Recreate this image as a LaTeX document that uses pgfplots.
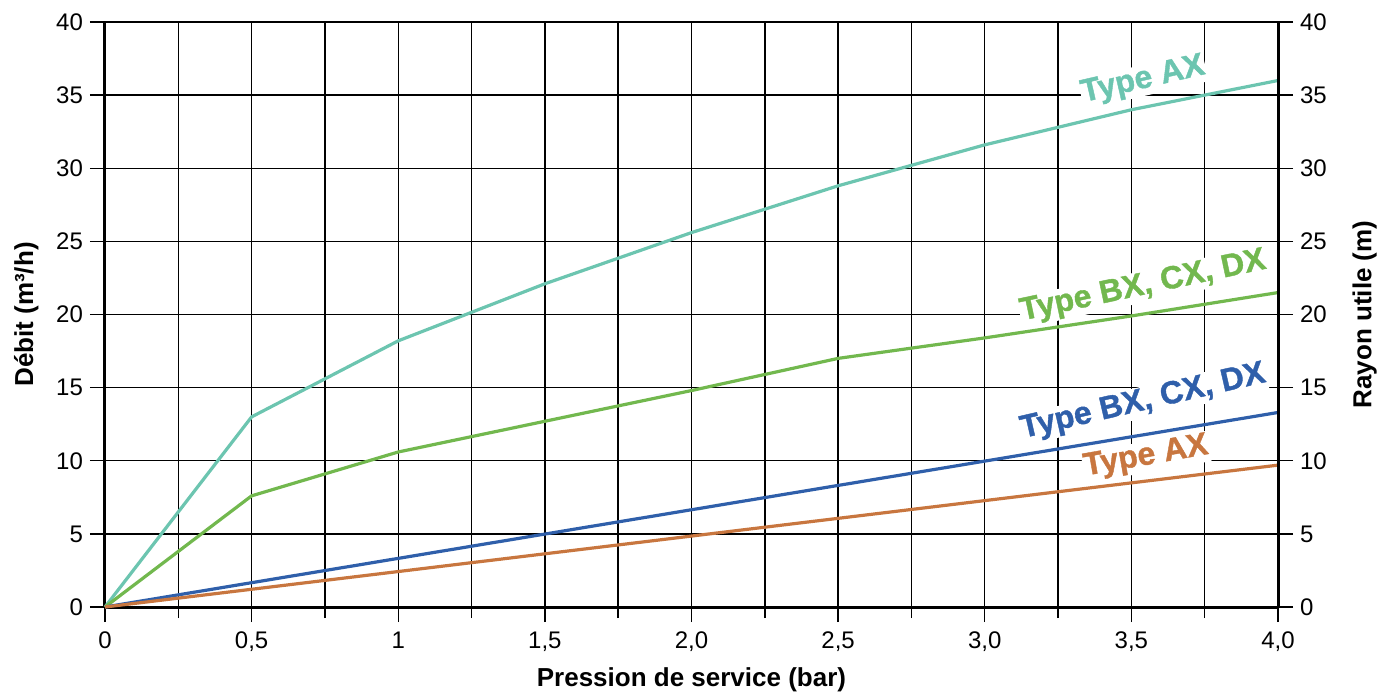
\documentclass[border=0pt]{standalone}
\usepackage{fontspec}
\setmainfont{Liberation Sans}
\newfontfamily\heavyfont[FakeBold=1.2]{Liberation Sans Bold}
\usepackage{pgfplots}
\pgfplotsset{compat=1.18}

\definecolor{cteal}{HTML}{6CC5B0}
\definecolor{cgreen}{HTML}{72B84E}
\definecolor{cblue}{HTML}{2F5FAA}
\definecolor{corange}{HTML}{C8763F}

\pgfplotsset{
  common/.style={
    scale only axis,
    width=586.5pt, height=292.5pt,
    xmin=0, xmax=4, ymin=0, ymax=40,
    ytick={0,5,...,40},
    tick align=outside,
    major tick length=7.5pt,
    minor tick length=5.5pt,
    tick style={black, line width=0.7pt},
    axis line style={line width=1.5pt},
    ticklabel style={font=\fontsize{12}{14}\selectfont},
    label style={font=\fontsize{13}{15}\selectfont\bfseries},
    /pgf/number format/assume math mode=true,
  },
}

\begin{document}
\begin{tikzpicture}
\useasboundingbox (-52.5pt,-42pt) rectangle (646pt,303.5pt);
\begin{axis}[
  common,
  axis x line*=bottom,
  axis y line*=left,
  xtick={0,0.5,1,1.5,2,2.5,3,3.5,4},
  xticklabels={0,{0,5},1,{1,5},{2,0},{2,5},{3,0},{3,5},{4,0}},
  xticklabel style={yshift=-1.5pt},
  minor xtick={0.25,0.75,...,3.75},
  grid=both,
  major grid style={black, line width=0.7pt},
  minor grid style={black, line width=0.7pt},
  xlabel={Pression de service (bar)},
  ylabel={Débit (m³/h)},
  xlabel style={yshift=-1pt},
  ylabel style={yshift=2pt},
  clip=false,
]
\addplot[cteal, line width=1.6pt] coordinates {
  (0,0) (0.5,13) (1,18.2) (1.5,22.1) (2,25.6) (2.5,28.8) (3,31.6) (3.5,34) (4,36)
};
\addplot[cgreen, line width=1.6pt] coordinates {
  (0,0) (0.5,7.6) (1,10.6) (1.5,12.7) (2,14.8) (2.5,17) (3,18.4) (3.5,19.9) (4,21.5)
};
\addplot[cblue, line width=1.6pt] coordinates {
  (0,0) (4,13.3)
};
\addplot[corange, line width=1.6pt] coordinates {
  (0,0) (4,9.7)
};
\tikzset{typelbl/.style={fill=white, inner sep=0.5pt, font=\fontsize{16}{18}\selectfont\heavyfont}}
\node[typelbl, text=cteal, rotate=13] at (axis cs:3.54,36.0) {Type AX};
\node[typelbl, text=cgreen, rotate=12] at (axis cs:3.54,21.9) {Type BX, CX, DX};
\node[typelbl, text=cblue, rotate=13] at (axis cs:3.54,14.0) {Type BX, CX, DX};
\node[typelbl, text=corange, rotate=10] at (axis cs:3.55,10.25) {Type AX};
\end{axis}
\begin{axis}[
  common,
  axis x line=none,
  axis y line*=right,
  ylabel={Rayon utile (m)},
  ylabel style={yshift=-6pt},
]
\addplot[draw=none] coordinates {(0,0)};
\end{axis}
\end{tikzpicture}
\end{document}
